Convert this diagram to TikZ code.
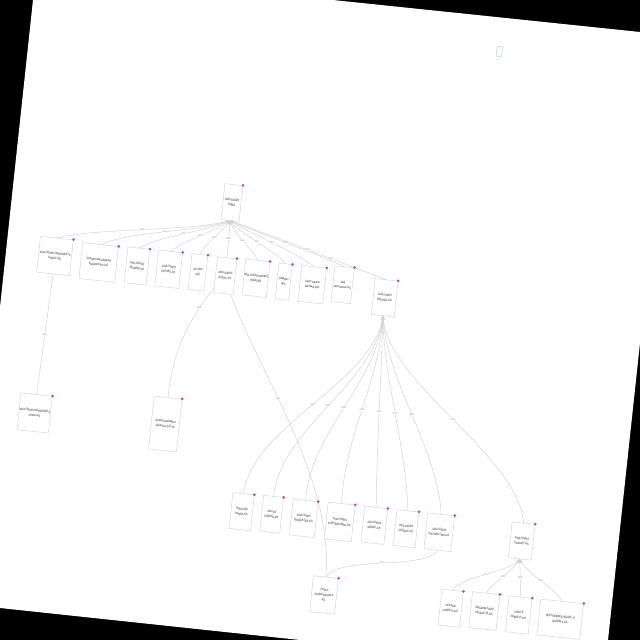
\documentclass[tikz,border=0pt]{standalone}
\usepackage{fontspec}
\setsansfont{Liberation Sans}[FakeStretch=.7]
\usetikzlibrary{arrows,backgrounds,positioning}
\definecolor{linegrey}{HTML}{D4D4D4}
\definecolor{boxgrey}{HTML}{CFCFCF}
\definecolor{textgrey}{HTML}{222222}
\definecolor{dotred}{HTML}{DC4A76}
\definecolor{paleblue}{HTML}{C9DCE8}
\tikzset{
  entity/.style={draw=boxgrey,fill=white,line width=.4pt,rotate=-6,inner sep=0pt,align=center,
    minimum height=36pt,text=textgrey,font=\sffamily\fontsize{3.3}{5}\selectfont},
  reddot/.style={circle,fill=dotred,inner sep=0pt,minimum size=3pt},
  link/.style={<-,>=stealth',draw=linegrey,line width=.5pt},
  under/.style={draw=linegrey,line width=.5pt},
  lbl/.style={fill=white,inner sep=.3pt,text=gray,font=\sffamily\fontsize{2.4}{2.6}\selectfont}
}
\begin{document}
\begin{tikzpicture}[x=1pt,y=-1pt]
\useasboundingbox (0,0) rectangle (640,640);

\node[entity,minimum width=18pt]   (root)    at (232,202.5) {ASIA FOODS\\NORD};
\node[entity,minimum width=33pt]   (ingred)  at (55,256)    {ASIA FOODS INGREDIENTS\\GROUP A/S};
\node[entity,minimum width=36pt]   (komplex) at (98.7,262.5) {Kompleksvirksomheden\\Ejendommene A/S};
\node[entity,minimum width=22pt]   (trading) at (137,266)   {ASIA FOODS\\TRADING A/S};
\node[entity,minimum width=24pt]   (export)  at (168.7,269.3) {ASIA FOODS\\EXPORT A/S};
\node[entity,minimum width=16pt]   (asaps)   at (198,272.3) {AS ASIA\\ApS};
\node[entity,minimum width=19.5pt] (assoc)   at (225.3,275.7) {ASIA FOODS\\ASSOC A/S};
\node[entity,minimum width=23pt]   (market)  at (256,278.3) {ASIA FOODS MARKET\\HANDLER};
\node[entity,minimum width=13.5pt] (dataplus) at (283.7,281.7) {Dataplus\\ApS};
\node[entity,minimum width=25pt]   (green)   at (312.3,284.7) {Green Garden\\Denmark ApS};
\node[entity,minimum width=19.5pt] (java)    at (342.7,284.7) {Java\\International A/S};
\node[entity,minimum width=23pt]   (holding) at (384.7,297.7) {ASIA FOODS\\HOLDING A/S};

\node[entity,minimum width=31.5pt,minimum height=37pt] (china) at (34.7,413) {ASIA FOODS INGREDIENTS\\CHINA A/S};
\node[entity,minimum width=28pt,minimum height=53pt]   (gefion) at (165.3,424) {Ejendomsselskabet\\Gefionsvej 125 I/S};

\node[entity,minimum width=21.5pt] (thai)    at (241.7,511.7) {THAIFOOD\\DANSK A/S};
\node[entity,minimum width=20pt]   (europa)  at (271.7,514.3) {ASIA OF\\EUROPA A/S};
\node[entity,minimum width=25pt]   (produkt) at (303.7,518.3) {ASIA FOODS\\PRODUKTER A/S};
\node[entity,minimum width=27pt,minimum height=37pt] (inter) at (339.7,522) {ASIA FOODS\\INTERNATIONAL A/S};
\node[entity,minimum width=23pt]   (norge)   at (374.3,525.3) {ASIA FOODS\\NORGE A/S};
\node[entity,minimum width=22pt]   (sverige) at (406,528.7) {ASIA FOODS\\SVERIGE A/S};
\node[entity,minimum width=27pt]   (distri)  at (439.3,532.3) {ASIA FOODS\\DISTRIBUTION A/S};
\node[entity,minimum width=25pt]   (cools)   at (324,595)   {COOLS\\SCANDINAVIAN A\\A/S};
\node[entity,minimum width=23pt]   (finance) at (521.7,541) {ASIA FOODS\\FINANCE A/S};

\node[entity,minimum width=21.5pt] (oceanic) at (450.7,608.3) {OCEANIC\\HANDELS A/S};
\node[entity,minimum width=27.5pt] (kingdom) at (484.3,611) {KINGDOM FOOD\\PRODUCTS A/S};
\node[entity,minimum width=23pt]   (choice)  at (518.7,615) {CHOICE\\HANDELS A/S};
\node[entity,minimum width=43pt]   (soema)   at (560.3,619.3) {SEN SOEMAEKTEGADE 17\\HANDELS A/S};

\foreach \n in {root,ingred,komplex,trading,export,asaps,assoc,market,dataplus,green,java,holding,china,gefion,thai,europa,produkt,inter,norge,sverige,distri,cools,finance,oceanic,kingdom,choice,soema}
  \node[reddot] (\n dot) at (\n.north east) {};

% phone icon, top right
\node[draw=paleblue,fill=white,line width=.7pt,rounded corners=.8pt,rotate=-6,minimum width=5.5pt,minimum height=10pt,inner sep=0pt] (phone) at (499.3,51.5) {};
\node[text=paleblue,inner sep=0pt,rotate=-6,font=\sffamily\fontsize{2.6}{3}\selectfont,below=1.5pt of phone] (phonetext) {Mobil};

\begin{scope}[on background layer]
\fill[black] (0,0) rectangle (640,640);
\fill[white] (33,0) -- (333,0) -- (640,32) -- (640,343) -- (608,640) -- (300,640) -- (0,608) -- (0,307) -- cycle;

\draw[link] (root.south) .. controls +(-41,11) and +(38,-10) .. node[lbl] (l1) {100\%} (ingred.north);
\draw[link] (root.south) .. controls +(-36,12) and +(34,-14) .. node[lbl] (l2) {100\%} (komplex.north);
\draw[link] (root.south) .. controls +(-26,11) and +(23.5,-12.3) .. node[lbl] (l3) {100\%} (trading.north);
\draw[link] (root.south) .. controls +(-16,11) and +(15.7,-11.5) .. node[lbl] (l4) {100\%} (export.north);
\draw[link] (root.south) .. controls +(-9,13) and +(7.8,-13.5) .. node[lbl] (l5) {100\%} (asaps.north);
\draw[link] (root.south) -- node[lbl] (l6) {100\%} (assoc.north);
\draw[link] (root.south) .. controls +(4,14) and +(-7.9,-14) .. node[lbl] (l7) {100\%} (market.north);
\draw[link] (root.south) .. controls +(9,12) and +(-11.7,-13) .. node[lbl] (l8) {100\%} (dataplus.north);
\draw[link] (root.south) .. controls +(19,12) and +(-18.7,-14.4) .. node[lbl] (l9) {100\%} (green.north);
\draw[link] (root.south) .. controls +(24,11) and +(-26.9,-12.6) .. node[lbl] (l10) {100\%} (java.north);
\draw[link] (root.south) .. controls +(34,12) and +(-36,-13) .. node[lbl] (l11) {100\%} node[lbl,pos=.63] (l11b) {100\%} (holding.north);

\draw[under] (ingred.south) -- node[lbl] (l12) {100\%} (china.north);
\draw[under] (assoc.center) .. controls +(-32.7,33.9) and +(4,-47.6) .. node[lbl,pos=.3] (l13) {100\%} (gefion.north);
\draw[under] (assoc.center) .. controls +(17.3,74) and +(9,-107) .. node[lbl,pos=.45] (l14) {100\%} (cools.north);
\draw[under] (distri.south) .. controls +(-12.4,20) and +(12.4,-21.3) .. node[lbl] (l15) {100\%} (cools.north);

\draw[link] (holding.south) .. controls +(-10.5,68) and +(9.4,-69) .. node[lbl] (l16) {100\%} (thai.north);
\draw[link] (holding.south) .. controls +(-7.5,68) and +(6.6,-67.7) .. node[lbl] (l17) {100\%} (europa.north);
\draw[link] (holding.south) .. controls +(-5.5,68) and +(4.6,-68.5) .. node[lbl] (l18) {100\%} (produkt.north);
\draw[link] (holding.south) .. controls +(-3.5,68) and +(2.6,-67.5) .. node[lbl] (l19) {100\%} (inter.north);
\draw[link] (holding.south) .. controls +(-1.5,68) and +(.6,-68) .. node[lbl] (l20) {100\%} (norge.north);
\draw[link] (holding.south) .. controls +(1.5,68) and +(-2,-67.2) .. node[lbl] (l21) {100\%} (sverige.north);
\draw[link] (holding.south) .. controls +(3.5,65) and +(-3.1,-64.7) .. node[lbl] (l22) {100\%} (distri.north);
\draw[link] (holding.south) .. controls +(5.5,69) and +(-5.6,-68.6) .. node[lbl] (l23) {100\%} (finance.north);

\draw[link] (finance.south) .. controls +(-9.8,13) and +(8.4,-14) .. node[lbl] (l24) {100\%} (oceanic.north);
\draw[link] (finance.south) .. controls +(-7.8,13) and +(7,-11.2) .. node[lbl] (l25) {100\%} (kingdom.north);
\draw[link] (finance.south) -- node[lbl] (l26) {100\%} (choice.north);
\draw[link] (finance.south) .. controls +(5,13) and +(-5.2,-11.6) .. node[lbl] (l27) {100\%} (soema.north);
\end{scope}
\end{tikzpicture}
\end{document}
